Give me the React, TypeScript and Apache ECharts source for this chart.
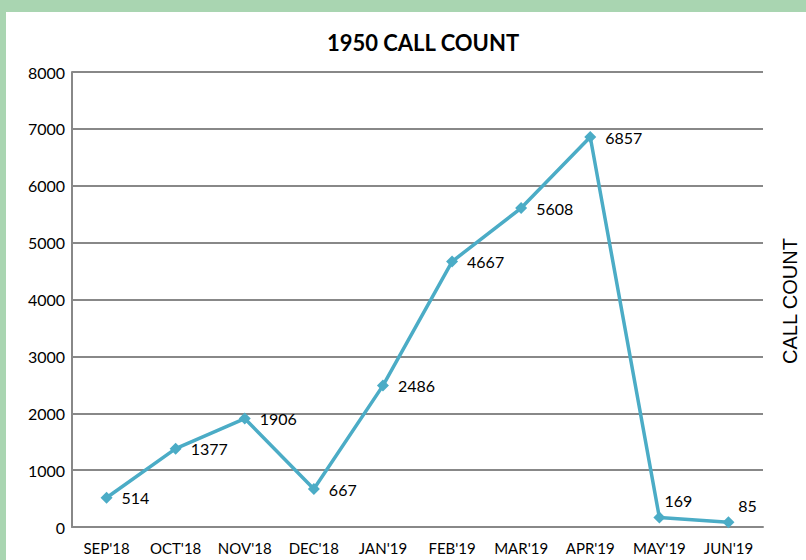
import React, { useEffect, useRef } from "react";
import * as echarts from "echarts";

const categories = ["SEP'18", "OCT'18", "NOV'18", "DEC'18", "JAN'19", "FEB'19", "MAR'19", "APR'19", "MAY'19", "JUN'19"];
const callCounts = [514, 1377, 1906, 667, 2486, 4667, 5608, 6857, 169, 85];
const yTicks = { min: 0, max: 8000, interval: 1000 };
const title = "1950 CALL COUNT";
const yAxisTitle = "CALL COUNT";

export default function App() {
  const ref = useRef<HTMLDivElement>(null);
  useEffect(() => {
    document.body.style.margin = "0";
    const chart = echarts.init(ref.current!, null, { renderer: "svg" });
    const font = "Lato, 'Open Sans', sans-serif";
    const data = callCounts.map((v, i) => {
      const above = i >= 8;
      return {
        value: v,
        label: above
          ? { position: "top", offset: [19, 2] }
          : { position: "right", offset: [4, 0] },
      };
    });
    chart.setOption({
      animation: false,
      backgroundColor: "transparent",
      graphic: [
        {
          type: "rect",
          shape: { x: 6, y: 12, width: 800, height: 548 },
          style: { fill: "#ffffff" },
          z: -10,
          silent: true,
        },
        {
          type: "text",
          x: 790,
          y: 301,
          rotation: Math.PI / 2,
          style: {
            text: yAxisTitle,
            fill: "#000",
            font: "20px 'Liberation Sans', Arial, sans-serif",
            textAlign: "center",
            textVerticalAlign: "middle",
          },
        },
      ],
      title: {
        text: title,
        left: 418,
        textAlign: "center",
        top: 26,
        textStyle: { fontFamily: font, fontWeight: "bold", fontSize: 22, color: "#000" },
      },
      grid: { left: 72, right: 43, top: 72, bottom: 33, containLabel: false },
      xAxis: {
        type: "category",
        data: categories,
        boundaryGap: true,
        axisLine: { show: true, lineStyle: { color: "#888888", width: 2 } },
        axisTick: { show: false },
        axisLabel: { color: "#000", fontFamily: font, fontSize: 15, margin: 13, interval: 0 },
      },
      yAxis: {
        type: "value",
        min: yTicks.min,
        max: yTicks.max,
        interval: yTicks.interval,
        axisLine: { show: true, lineStyle: { color: "#888888", width: 2 } },
        axisTick: { show: false },
        axisLabel: {
          color: "#000",
          fontFamily: font,
          fontSize: 16,
          margin: 7,
          formatter: (v: number) => String(v),
        },
        splitLine: { show: true, lineStyle: { color: "#888888", width: 2 } },
      },
      series: [
        {
          type: "line",
          data,
          symbol: "diamond",
          symbolSize: 12,
          lineStyle: { color: "#4bacc6", width: 3.5 },
          itemStyle: { color: "#4bacc6" },
          label: {
            show: true,
            color: "#000",
            fontFamily: font,
            fontSize: 16,
          },
        },
      ],
    });
    return () => chart.dispose();
  }, []);
  return (
    <div style={{ position: "absolute", left: 0, top: 0, width: 806, height: 560, background: "#a9d5b1" }}>
      <div ref={ref} style={{ width: 806, height: 560 }} />
    </div>
  );
}
